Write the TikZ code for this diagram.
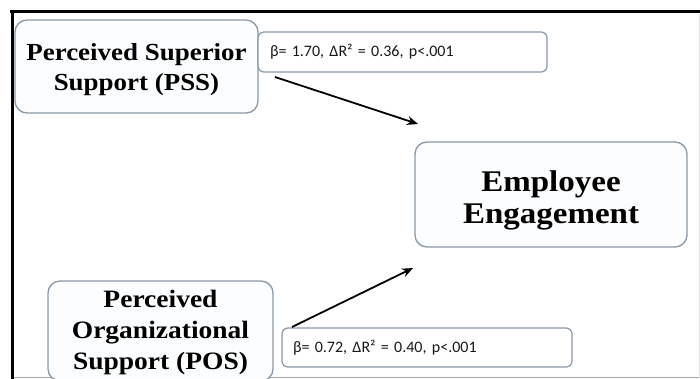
\documentclass[tikz,border=0pt]{standalone}
\usepackage{fontspec}
\setmainfont{Liberation Serif}
\newfontfamily\boxfont[FakeStretch=1.1]{Liberation Serif}
\newfontfamily\lblfont{Carlito}
\usetikzlibrary{arrows.meta}
\definecolor{boxline}{HTML}{8A98A6}
\definecolor{boxfill}{HTML}{FBFDFE}
\tikzset{
  concept/.style={draw=boxline, fill=boxfill, line width=1.3pt, rounded corners=12pt, inner sep=0pt},
  conceptText/.style={align=center, inner sep=0pt, font=\boxfont\bfseries\fontsize{24.5}{30}\selectfont},
  coef/.style={draw=boxline, fill=white, line width=1.2pt, rounded corners=6pt, inner sep=0pt, font=\lblfont\fontsize{16}{18}\selectfont, text=black!90, align=left},
  link/.style={line width=1.8pt, -{Stealth[length=11pt,width=9pt]}}
}
\begin{document}
\begin{tikzpicture}[x=1pt,y=-1pt]
\useasboundingbox (0,0) rectangle (700,379);
\clip (0,0) rectangle (700,379);
% frame
\draw[line width=3pt, black] (10,12) -- (700,12);
\draw[line width=3pt, black] (12,11) -- (12,379);
\draw[line width=1.2pt, black!35] (14,377.5) -- (700,377.5);
\draw[line width=1pt, black!12] (699,14) -- (699,379);
% nodes
\node[concept, minimum width=243pt, minimum height=93pt] (pss) at (136.5,66.5) {};
\node[conceptText] (psst) at ([yshift=-3pt]pss.center) {Perceived Superior\\Support (PSS)};
\node[coef, minimum width=289pt, minimum height=40pt, text width=265pt] (c1) at (402.5,52) {β= 1.70, ΔR² = 0.36, p<.001};
\node[concept, minimum width=272pt, minimum height=105pt] (ee) at (551,194.5) {};
\node[conceptText, font=\boxfont\bfseries\fontsize{30}{32}\selectfont] (eet) at ([yshift=-6pt]ee.center) {Employee\\Engagement};
\node[concept, minimum width=225pt, minimum height=100pt] (pos) at (160.5,331) {};
\node[conceptText, font=\boxfont\bfseries\fontsize{25}{31}\selectfont] (post) at ([yshift=-1pt]pos.center) {Perceived\\Organizational\\Support (POS)};
\node[coef, minimum width=290pt, minimum height=39pt, text width=268pt] (c2) at (427,347.5) {β= 0.72, ΔR² = 0.40, p<.001};
% connectors
\coordinate (a1s) at (275,77);
\coordinate (a1e) at (418,124);
\coordinate (a2s) at (292,327);
\coordinate (a2e) at (413,268);
\draw[link] (a1s) -- (a1e);
\draw[link] (a2s) -- (a2e);
\end{tikzpicture}
\end{document}
